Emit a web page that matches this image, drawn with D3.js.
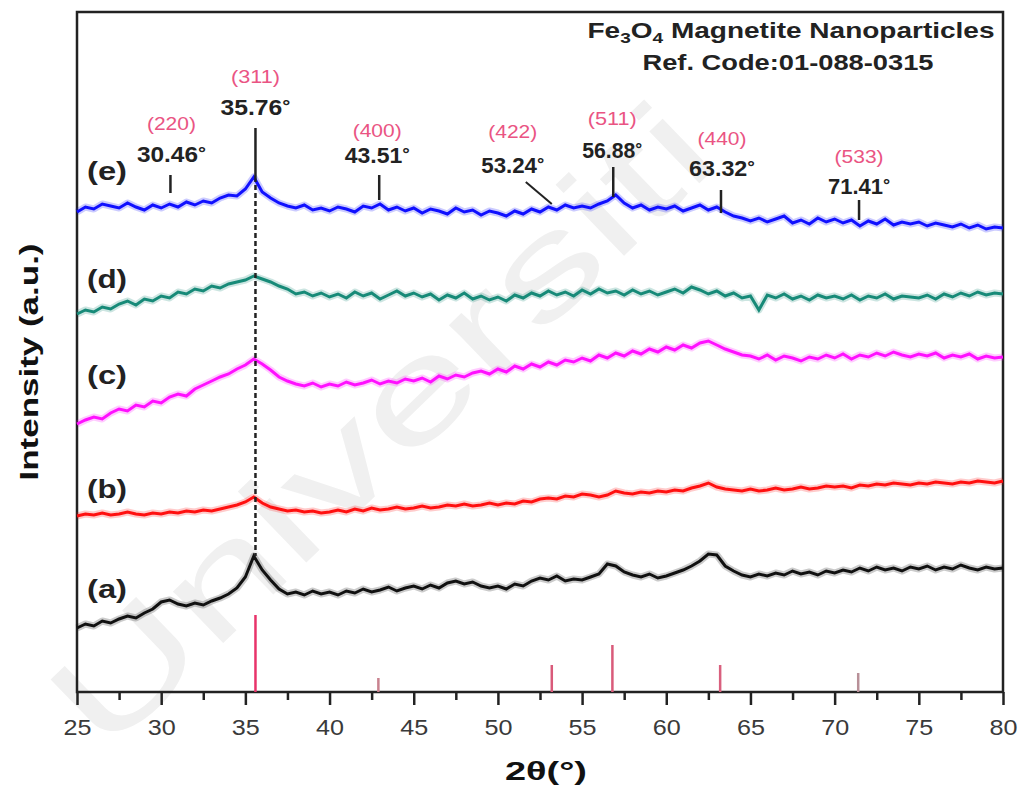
<!DOCTYPE html>
<html lang="en">
<head>
    <meta charset="UTF-8">
    <title>Fe3O4 XRD patterns</title>
    <script src="https://d3js.org/d3.v7.min.js"></script>
</head>
<style>
    body { margin: 0; background: #fff; }
    svg text { font-family: "Liberation Sans", Arial, sans-serif; }
</style>
<body>
    <div id="chart-container"></div>

    <script>
        // 2theta sampling grid (deg), one reading every 0.5 deg
        const twoTheta = d3.range(0, 111).map(i => 25 + i * 0.5);

        // intensities (a.u., offset stacked)
        const intensityA = [
            64, 68, 66, 71, 69, 73, 76, 74, 79, 83,
            90, 92, 88, 86, 89, 87, 91, 94, 98, 104,
            115, 136, 122, 112, 103, 98, 100, 97, 101, 98,
            100, 97, 101, 99, 103, 100, 102, 105, 101, 104,
            106, 103, 107, 104, 109, 111, 108, 110, 106, 104,
            106, 103, 108, 106, 111, 114, 112, 116, 111, 113,
            112, 115, 118, 128, 126, 120, 117, 115, 118, 114,
            116, 119, 122, 126, 131, 138, 137, 126, 121, 117,
            115, 118, 116, 119, 117, 121, 118, 120, 117, 121,
            119, 122, 120, 124, 121, 125, 122, 124, 121, 125,
            123, 126, 122, 125, 123, 127, 124, 122, 125, 123,
            124];
        const intensityB = [
            176, 178, 177, 179, 177, 178, 180, 178, 177, 179,
            178, 180, 179, 181, 180, 182, 181, 183, 185, 187,
            190, 195, 189, 185, 183, 181, 182, 180, 181, 179,
            180, 182, 180, 183, 181, 184, 182, 183, 185, 183,
            184, 186, 184, 185, 187, 186, 188, 186, 187, 189,
            187, 189, 188, 191, 190, 193, 194, 193, 196, 195,
            198, 197, 195, 197, 201, 199, 198, 200, 199, 201,
            200, 202, 201, 204, 206, 209, 205, 203, 202, 201,
            203, 201, 202, 204, 202, 203, 205, 203, 204, 206,
            205, 206, 204, 207, 206, 208, 207, 209, 208, 207,
            209, 208, 210, 209, 208, 210, 209, 211, 210, 209,
            211];
        const intensityC = [
            268, 272, 275, 273, 279, 283, 281, 287, 285, 291,
            289, 295, 298, 296, 303, 307, 311, 315, 318, 323,
            327, 333, 328, 322, 315, 311, 308, 306, 309, 305,
            308, 306, 310, 307, 309, 312, 308, 311, 309, 313,
            311, 314, 310, 316, 313, 317, 315, 319, 321, 318,
            323, 320, 326, 323, 328, 325, 330, 327, 332, 330,
            334, 331, 337, 334, 339, 336, 341, 338, 343, 340,
            345, 342, 347, 344, 349, 351, 347, 343, 340, 337,
            336, 333, 337, 332, 336, 334, 331, 335, 333, 337,
            334, 338, 333, 337, 335, 339, 336, 340, 337, 335,
            338, 336, 339, 334, 337, 335, 338, 333, 336, 334,
            335];
        const intensityD = [
            378, 382, 380, 385, 383, 388, 391, 387, 393, 391,
            396, 394, 400, 398, 403, 401, 406, 404, 408, 410,
            412, 416, 413, 410, 406, 403, 398, 400, 396, 399,
            395, 398, 394, 400, 396, 399, 393, 397, 401, 396,
            399, 395, 398, 392, 397, 394, 399, 393, 396, 392,
            395, 391, 397, 394, 399, 396, 401, 397, 400, 396,
            402, 398, 403, 399, 401, 397, 402, 398, 401, 397,
            400, 403, 399, 405, 402, 398, 401, 396, 399, 394,
            396, 382, 397, 394, 398, 393, 396, 392, 397, 394,
            396, 393, 397, 392, 396, 394, 398, 393, 396, 395,
            394, 397, 393, 398, 395, 399, 396, 400, 397, 399,
            398];
        const intensityE = [
            480, 485, 483, 488, 486, 484, 489, 485, 482, 487,
            484, 488, 485, 490, 487, 491, 489, 494, 497, 496,
            503, 515, 500, 494, 489, 486, 484, 487, 482, 484,
            481, 485, 483, 480, 486, 484, 488, 482, 485, 481,
            484, 479, 483, 481, 478, 484, 480, 482, 477, 481,
            479, 476, 481, 478, 483, 480, 485, 482, 487, 484,
            486, 484, 488, 491, 497, 489, 484, 487, 482, 485,
            483, 486, 481, 484, 487, 482, 485, 480, 476, 474,
            471, 474, 470, 473, 476, 469, 472, 468, 474, 470,
            473, 469, 472, 466, 471, 468, 473, 467, 470, 468,
            470, 466, 469, 467, 465, 468, 464, 467, 463, 465,
            464];

        const seriesNames = ["(a)", "(b)", "(c)", "(d)", "(e)"];

        // reference pattern 01-088-0315 (sticks)
        const refAngles = [35.6, 42.9, 53.2, 56.8, 63.2, 71.4];
        const refHeights = [77, 14, 27, 47, 27, 19];

        // peak annotations
        const peakHkl = ["(220)", "(311)", "(400)", "(422)", "(511)", "(440)", "(533)"];
        const peakText = ["30.46", "35.76", "43.51", "53.24", "56.88", "63.32", "71.41"];
        const peakMarkAngles = [30.55, 35.6, 42.95, 53.2, 56.85, 63.25, 71.45];

        const xTicks = [25, 30, 35, 40, 45, 50, 55, 60, 65, 70, 75, 80];
        const xMinorTicks = [27.5, 32.5, 37.5, 42.5, 47.5, 52.5, 57.5, 62.5, 67.5, 72.5, 77.5];

        const containerWidth = 1022;
        const containerHeight = 792;
        const plot = { left: 77, right: 1003, top: 12, bottom: 692 };

        const svg = d3.select("#chart-container")
            .append("svg")
            .attr("width", containerWidth)
            .attr("height", containerHeight);

        // faint watermark behind everything
        svg.append("text")
            .attr("transform", "translate(104,758) rotate(-44)")
            .attr("textLength", 860)
            .attr("lengthAdjust", "spacingAndGlyphs")
            .style("font-size", "136px")
            .style("fill", "#f0f0f0")
            .text("Universiti");

        const x = d3.scaleLinear().domain([25, 80]).range([plot.left, plot.right]);
        const y = d3.scaleLinear().domain([0, 680]).range([plot.bottom, plot.top]);

        // frame
        svg.append("rect")
            .attr("x", plot.left)
            .attr("y", plot.top)
            .attr("width", plot.right - plot.left)
            .attr("height", plot.bottom - plot.top)
            .style("fill", "none")
            .style("stroke", "#222")
            .style("stroke-width", "2.5px");

        // reference sticks
        const stickColors = ["#e8336a", "#c9828f", "#d95a7a", "#d95a7a", "#d9607e", "#b89098"];
        svg.append("g").selectAll("line")
            .data(refAngles)
            .join("line")
            .attr("x1", d => x(d))
            .attr("x2", d => x(d))
            .attr("y1", y(0))
            .attr("y2", (d, i) => y(refHeights[i]))
            .style("stroke", (d, i) => stickColors[i])
            .style("stroke-width", "2.5px");

        // patterns
        const series = [intensityA, intensityB, intensityC, intensityD, intensityE];
        const colors = ["#111111", "#ff1010", "#ff10ff", "#178a78", "#1010ff"];
        const line = d3.line()
            .x((d, i) => x(twoTheta[i]))
            .y(d => y(d));

        // soft halo gives the noisy, thick look of the scans
        svg.append("g").selectAll("path")
            .data(series)
            .join("path")
            .attr("d", d => line(d))
            .style("fill", "none")
            .style("stroke", (d, i) => colors[i])
            .style("stroke-opacity", 0.22)
            .style("stroke-width", "7px")
            .style("stroke-linejoin", "round");

        svg.append("g").selectAll("path")
            .data(series)
            .join("path")
            .attr("d", d => line(d))
            .style("fill", "none")
            .style("stroke", (d, i) => colors[i])
            .style("stroke-width", "3px")
            .style("stroke-linejoin", "miter");

        // series labels
        const labelBaselines = [598, 498, 384, 288, 180];
        svg.append("g").selectAll("text")
            .data(seriesNames)
            .join("text")
            .attr("x", 87)
            .attr("y", (d, i) => labelBaselines[i])
            .attr("textLength", 40)
            .attr("lengthAdjust", "spacingAndGlyphs")
            .style("font-size", "26px")
            .style("font-weight", "bold")
            .style("fill", "#222")
            .text(d => d);

        // dotted guide through the (311) peak
        const i311 = twoTheta.indexOf(35.5);
        svg.append("line")
            .attr("x1", x(35.6))
            .attr("x2", x(35.6))
            .attr("y1", y(d3.max(intensityE.slice(i311 - 1, i311 + 2))))
            .attr("y2", y(intensityA[i311]))
            .style("stroke", "#222")
            .style("stroke-width", "2.5px")
            .style("stroke-dasharray", "5,3");

        // peak marks and labels
        const markTop = [175, 128, 175, 182, 167, 190, 200];
        const markBottom = [193, 177, 200, 204, 197, 213, 220];
        const labelDx = [1, 0, -2, -39, -1, 1, 0];
        const valueBaseline = [162, 115, 163, 173, 158, 176, 194];
        const valueWidth = [69, 70, 65, 63, 60, 66, 62];
        const hklBaseline = [130, 83, 137, 138, 125, 145, 163];

        const ann = svg.append("g");
        peakMarkAngles.forEach((a, i) => {
            const px = x(a);
            if (i === 3) {
                // leader for 53.24
                ann.append("line")
                    .attr("x1", px - 26).attr("y1", markTop[i])
                    .attr("x2", px).attr("y2", markBottom[i])
                    .style("stroke", "#222").style("stroke-width", "2px");
            } else {
                ann.append("line")
                    .attr("x1", px).attr("x2", px)
                    .attr("y1", markTop[i]).attr("y2", markBottom[i])
                    .style("stroke", "#222").style("stroke-width", "2.5px");
            }
            const t = ann.append("text")
                .attr("x", px + labelDx[i])
                .attr("y", valueBaseline[i])
                .attr("text-anchor", "middle")
                .attr("textLength", valueWidth[i])
                .attr("lengthAdjust", "spacingAndGlyphs")
                .style("font-size", "22px")
                .style("font-weight", "bold")
                .style("fill", "#222");
            t.append("tspan").text(peakText[i]);
            t.append("tspan").text("°").style("font-size", "18px").attr("dy", -3);

            ann.append("text")
                .attr("x", px + labelDx[i])
                .attr("y", hklBaseline[i])
                .attr("text-anchor", "middle")
                .attr("textLength", 49)
                .attr("lengthAdjust", "spacingAndGlyphs")
                .style("font-size", "18px")
                .style("fill", "#ea5483")
                .text(peakHkl[i]);
        });

        // x axis
        const xAxis = d3.axisBottom(x)
            .tickValues(xTicks)
            .tickSize(13)
            .tickPadding(14)
            .tickFormat(d3.format("d"));
        const gx = svg.append("g")
            .attr("transform", `translate(0,${plot.bottom})`)
            .call(xAxis);
        gx.select(".domain").remove();
        gx.selectAll(".tick line").style("stroke", "#222").style("stroke-width", "2.5px");
        gx.selectAll(".tick text")
            .attr("textLength", 28)
            .attr("lengthAdjust", "spacingAndGlyphs")
            .style("font-size", "22px")
            .style("fill", "#3a3a3a")
            .style("font-family", "'Liberation Sans', Arial, sans-serif");

        const gxm = svg.append("g")
            .attr("transform", `translate(0,${plot.bottom})`)
            .call(d3.axisBottom(x).tickValues(xMinorTicks).tickSize(8).tickFormat(""));
        gxm.select(".domain").remove();
        gxm.selectAll(".tick line").style("stroke", "#222").style("stroke-width", "2.5px");

        // axis titles
        svg.append("text")
            .attr("x", 546)
            .attr("y", 780)
            .attr("text-anchor", "middle")
            .attr("textLength", 82)
            .attr("lengthAdjust", "spacingAndGlyphs")
            .style("font-size", "25px")
            .style("font-weight", "bold")
            .style("fill", "#111")
            .text("2θ(°)");

        svg.append("text")
            .attr("transform", "translate(38,362) rotate(-90)")
            .attr("text-anchor", "middle")
            .attr("textLength", 237)
            .attr("lengthAdjust", "spacingAndGlyphs")
            .style("font-size", "26px")
            .style("font-weight", "bold")
            .style("fill", "#111")
            .text("Intensity (a.u.)");

        // title box text
        const title = svg.append("text")
            .attr("x", 791)
            .attr("y", 38)
            .attr("text-anchor", "middle")
            .attr("textLength", 407)
            .attr("lengthAdjust", "spacingAndGlyphs")
            .style("font-size", "22px")
            .style("font-weight", "bold")
            .style("fill", "#222");
        title.append("tspan").text("Fe");
        title.append("tspan").text("3").style("font-size", "15px").attr("dy", 5);
        title.append("tspan").text("O").attr("dy", -5);
        title.append("tspan").text("4").style("font-size", "15px").attr("dy", 5);
        title.append("tspan").text(" Magnetite Nanoparticles").attr("dy", -5);

        svg.append("text")
            .attr("x", 788)
            .attr("y", 70)
            .attr("text-anchor", "middle")
            .attr("textLength", 291)
            .attr("lengthAdjust", "spacingAndGlyphs")
            .style("font-size", "22px")
            .style("font-weight", "bold")
            .style("fill", "#222")
            .text("Ref. Code:01-088-0315");
    </script>
</body>
</html>
